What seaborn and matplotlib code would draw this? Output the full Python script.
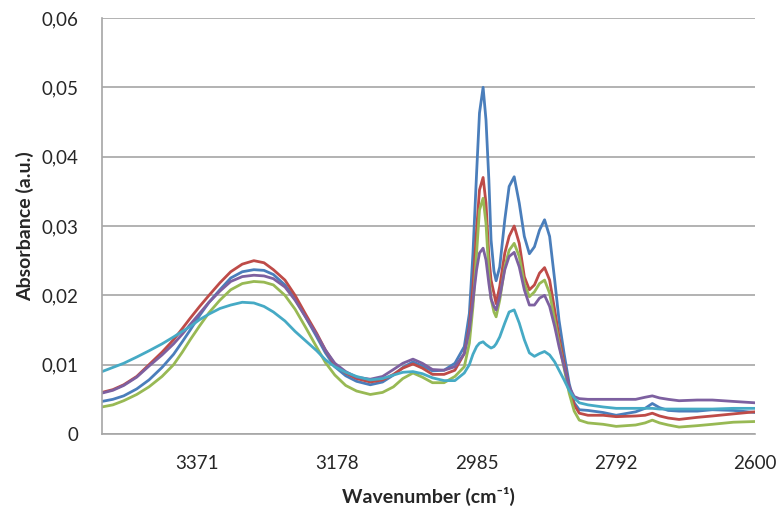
import numpy as np
import pandas as pd
import seaborn as sns
import matplotlib
matplotlib.use("Agg")
import matplotlib.pyplot as plt
from matplotlib.ticker import FuncFormatter, FixedLocator

# --- Data ---
wavenumber = [3503, 3488, 3473, 3455, 3438, 3420, 3404, 3392, 3381, 3368,
              3355, 3340, 3325, 3309, 3293, 3279, 3266, 3250, 3236, 3221,
              3206, 3194, 3181, 3166, 3151, 3132, 3115, 3100, 3087, 3073,
              3060, 3046, 3030,
              3015, 3002, 2995, 2990, 2985, 2981, 2976, 2972, 2968, 2965,
              2961, 2958, 2953, 2946, 2940, 2933, 2926, 2919, 2912, 2905,
              2898, 2891, 2884, 2877, 2871, 2864, 2857, 2850, 2843, 2831,
              2810, 2792, 2765, 2752, 2742, 2732, 2720, 2705, 2680, 2659,
              2630, 2600]

blue = [0.0047, 0.0050, 0.0055, 0.0065, 0.0078, 0.0096, 0.0115, 0.0133, 0.0150, 0.0171,
        0.0190, 0.0208, 0.0225, 0.0234, 0.0237, 0.0236, 0.0230, 0.0215, 0.0195, 0.0168,
        0.0140, 0.0117, 0.0097, 0.0084, 0.0076, 0.0071, 0.0075, 0.0085, 0.0096, 0.0104,
        0.0098, 0.0091, 0.0092,
        0.0102, 0.0126, 0.0174, 0.0261, 0.0376, 0.0463, 0.0500, 0.0453, 0.0366, 0.0280,
        0.0235, 0.0221, 0.0241, 0.0309, 0.0357, 0.0371, 0.0333, 0.0285, 0.0260, 0.0270,
        0.0294, 0.0309, 0.0285, 0.0222, 0.0164, 0.0116, 0.0073, 0.0045, 0.0035, 0.0034,
        0.0031, 0.0027, 0.0032, 0.0037, 0.0044, 0.0038, 0.0034, 0.0033, 0.0033, 0.0035,
        0.0034, 0.0031]

red = [0.0060, 0.0064, 0.0071, 0.0083, 0.0100, 0.0118, 0.0136, 0.0152, 0.0167, 0.0184,
       0.0200, 0.0218, 0.0234, 0.0245, 0.0250, 0.0247, 0.0237, 0.0222, 0.0200, 0.0172,
       0.0145, 0.0121, 0.0100, 0.0088, 0.0080, 0.0075, 0.0078, 0.0086, 0.0095, 0.0101,
       0.0095, 0.0086, 0.0086,
       0.0092, 0.0116, 0.0155, 0.0213, 0.0294, 0.0352, 0.0370, 0.0333, 0.0256, 0.0222,
       0.0203, 0.0188, 0.0213, 0.0261, 0.0285, 0.0300, 0.0275, 0.0227, 0.0208, 0.0215,
       0.0232, 0.0240, 0.0222, 0.0179, 0.0140, 0.0102, 0.0068, 0.0042, 0.0030, 0.0027,
       0.0027, 0.0025, 0.0026, 0.0027, 0.0030, 0.0026, 0.0023, 0.0021, 0.0024, 0.0026,
       0.0029, 0.0032]

green = [0.0039, 0.0042, 0.0048, 0.0057, 0.0068, 0.0083, 0.0100, 0.0118, 0.0136, 0.0156,
         0.0175, 0.0193, 0.0208, 0.0217, 0.0220, 0.0219, 0.0215, 0.0200, 0.0180, 0.0153,
         0.0125, 0.0103, 0.0085, 0.0070, 0.0062, 0.0057, 0.0060, 0.0068, 0.0080, 0.0088,
         0.0082, 0.0074, 0.0074,
         0.0083, 0.0097, 0.0131, 0.0184, 0.0261, 0.0323, 0.0340, 0.0304, 0.0232, 0.0195,
         0.0176, 0.0169, 0.0193, 0.0241, 0.0265, 0.0275, 0.0256, 0.0217, 0.0198, 0.0205,
         0.0217, 0.0222, 0.0203, 0.0164, 0.0131, 0.0095, 0.0059, 0.0033, 0.0020, 0.0016,
         0.0014, 0.0011, 0.0013, 0.0016, 0.0020, 0.0016, 0.0013, 0.0010, 0.0012, 0.0014,
         0.0017, 0.0018]

purple = [0.0059, 0.0063, 0.0070, 0.0082, 0.0098, 0.0114, 0.0130, 0.0144, 0.0158, 0.0174,
          0.0190, 0.0206, 0.0220, 0.0227, 0.0229, 0.0228, 0.0224, 0.0212, 0.0193, 0.0168,
          0.0143, 0.0121, 0.0102, 0.0090, 0.0082, 0.0079, 0.0083, 0.0093, 0.0102, 0.0108,
          0.0102, 0.0093, 0.0092,
          0.0097, 0.0116, 0.0150, 0.0193, 0.0237, 0.0261, 0.0268, 0.0251, 0.0217, 0.0195,
          0.0184, 0.0179, 0.0198, 0.0237, 0.0256, 0.0262, 0.0241, 0.0208, 0.0186, 0.0186,
          0.0196, 0.0200, 0.0184, 0.0155, 0.0126, 0.0097, 0.0068, 0.0054, 0.0051, 0.0050,
          0.0050, 0.0050, 0.0050, 0.0053, 0.0055, 0.0052, 0.0050, 0.0048, 0.0049, 0.0049,
          0.0047, 0.0045]

cyan = [0.0090, 0.0096, 0.0102, 0.0111, 0.0120, 0.0130, 0.0140, 0.0148, 0.0155, 0.0165,
        0.0173, 0.0181, 0.0186, 0.0190, 0.0189, 0.0184, 0.0176, 0.0163, 0.0148, 0.0134,
        0.0120, 0.0107, 0.0097, 0.0089, 0.0083, 0.0078, 0.0080, 0.0085, 0.0089, 0.0090,
        0.0087, 0.0081, 0.0077,
        0.0077, 0.0088, 0.0100, 0.0115, 0.0126, 0.0131, 0.0133, 0.0129, 0.0126, 0.0124,
        0.0126, 0.0130, 0.0140, 0.0160, 0.0176, 0.0179, 0.0160, 0.0136, 0.0117, 0.0112,
        0.0116, 0.0119, 0.0114, 0.0104, 0.0092, 0.0078, 0.0063, 0.0052, 0.0045, 0.0042,
        0.0039, 0.0037, 0.0037, 0.0037, 0.0037, 0.0036, 0.0036, 0.0036, 0.0036, 0.0036,
        0.0037, 0.0037]

series_names = ["s1", "s2", "s3", "s4", "s5"]
series_colors = ["#4A7EBB", "#BE4B48", "#98B954", "#7D60A0", "#46AAC5"]
x_labels = [3371, 3178, 2985, 2792, 2600]

# --- Build long table for seaborn ---
frames = []
for name, vals in zip(series_names, [blue, red, green, purple, cyan]):
    frames.append(pd.DataFrame({"wn": wavenumber, "abs": vals, "series": name}))
df = pd.concat(frames, ignore_index=True)

# --- Plot ---
sns.set_style("white")
plt.rcParams["font.family"] = ["Lato", "DejaVu Sans"]

fig = plt.figure(figsize=(7.82, 5.16), dpi=100)
ax = fig.add_axes([102 / 782, 1 - 434 / 516, 653 / 782, 416 / 516])

sns.lineplot(data=df, x="wn", y="abs", hue="series", palette=series_colors,
             linewidth=2.0, legend=False, ax=ax, sort=False, estimator=None)

ax.set_xlim(3503, 2600)
ax.set_ylim(0, 0.06)

# gridlines + axes styling (Excel look)
grid_c = "#A6A6A6"
ax.set_yticks(np.arange(0, 0.061, 0.01))
ax.yaxis.grid(True, color=grid_c, linewidth=1.2)
ax.xaxis.grid(False)
ax.set_axisbelow(True)
for side in ["top", "right"]:
    ax.spines[side].set_visible(False)
for side in ["left", "bottom"]:
    ax.spines[side].set_color(grid_c)
    ax.spines[side].set_linewidth(1.2)

ax.yaxis.set_major_formatter(FuncFormatter(
    lambda v, p: "0" if abs(v) < 1e-9 else f"{v:.2f}".replace(".", ",")))

ax.xaxis.set_major_locator(FixedLocator(x_labels))
ax.set_xticklabels([str(v) for v in x_labels])
step = (x_labels[0] - x_labels[-1]) / 16
ax.xaxis.set_minor_locator(FixedLocator(np.arange(x_labels[-1], 3503, step)))

ax.tick_params(axis="both", which="both", direction="out", color=grid_c,
               width=1.2, length=5, labelcolor="#262626", labelsize=13.5)
ax.tick_params(axis="y", pad=12)
ax.tick_params(axis="x", which="major", pad=10)

ax.set_xlabel("Wavenumber (cm\u207b\u00b9)", fontsize=14, fontweight="bold",
              color="#262626", labelpad=11)
ax.set_ylabel("Absorbance (a.u.)", fontsize=14, fontweight="bold",
              color="#262626", labelpad=5)

fig.savefig("out.png", dpi=100)
